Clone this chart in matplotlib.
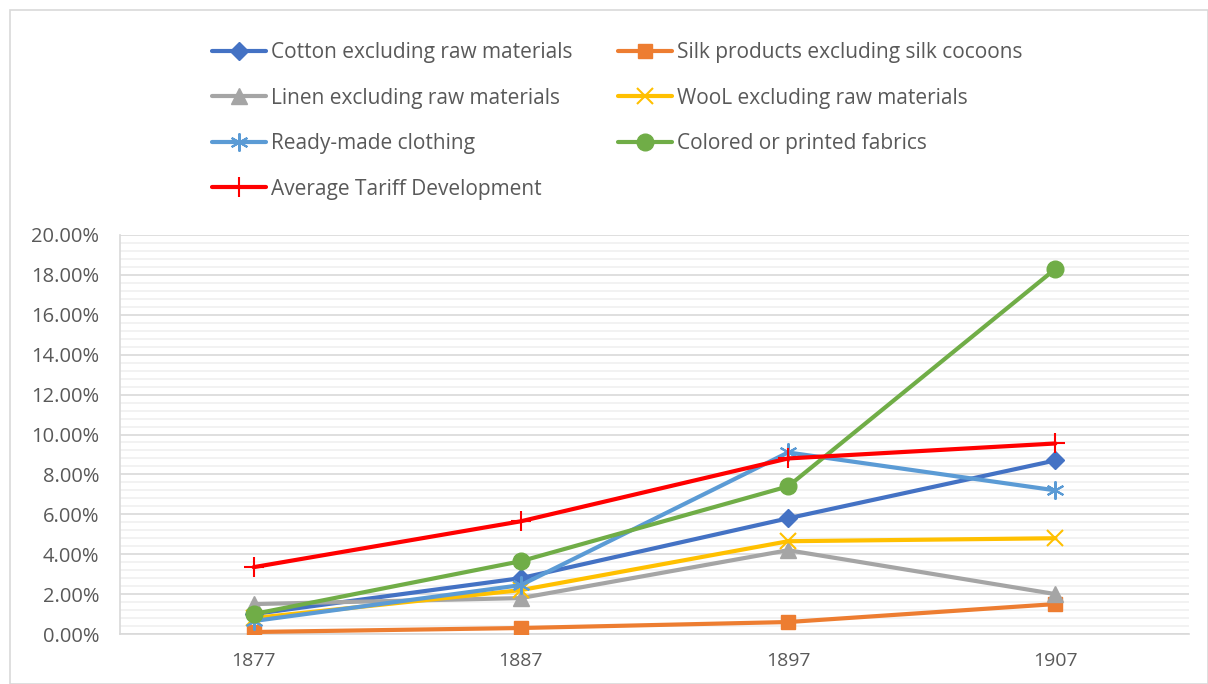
import matplotlib.pyplot as plt
from matplotlib.ticker import MultipleLocator, FuncFormatter
from matplotlib.patches import Rectangle

plt.rcParams['font.family'] = ['Open Sans', 'DejaVu Sans']

# Data
years = ['1877', '1887', '1897', '1907']
cotton = [1.0, 2.8, 5.8, 8.7]
silk = [0.1, 0.3, 0.6, 1.5]
linen = [1.5, 1.8, 4.2, 2.0]
wool = [0.8, 2.2, 4.65, 4.8]
ready_made = [0.65, 2.45, 9.1, 7.2]
colored = [1.0, 3.65, 7.4, 18.3]
average = [3.35, 5.65, 8.8, 9.55]

series = [
    ('Cotton excluding raw materials', cotton, '#4472C4', 'D', 9),
    ('Silk products excluding silk cocoons', silk, '#ED7D31', 's', 10),
    ('Linen excluding raw materials', linen, '#A5A5A5', '^', 11),
    ('WooL excluding raw materials', wool, '#FFC000', 'x', 11),
    ('Ready-made clothing', ready_made, '#5B9BD5', (6, 2, 0), 13),
    ('Colored or printed fabrics', colored, '#70AD47', 'o', 12),
    ('Average Tariff Development', average, '#FF0000', '+', 14),
]

fig = plt.figure(figsize=(12.08, 6.84), dpi=100)
ax = fig.add_axes([120 / 1208, 1 - 634 / 684, (1189 - 120) / 1208, (634 - 235) / 684])

x = range(len(years))
handles = []
for name, vals, color, marker, ms in series:
    h, = ax.plot(x, vals, color=color, lw=3, marker=marker, markersize=ms,
                 markeredgewidth=1.5 if marker in ('x', '+', (6, 2, 0)) else 1,
                 markerfacecolor=color, markeredgecolor=color, label=name,
                 solid_capstyle='round', zorder=3)
    handles.append(h)

ax.set_xlim(-0.5, len(years) - 0.5)
ax.set_ylim(0, 20)
ax.set_xticks(list(x))
ax.set_xticklabels(years)
ax.yaxis.set_major_locator(MultipleLocator(2))
ax.yaxis.set_minor_locator(MultipleLocator(0.4))
ax.yaxis.set_major_formatter(FuncFormatter(lambda v, p: f'{v:.2f}%'))
ax.grid(which='major', axis='y', color='#D9D9D9', lw=1.2, zorder=0)
ax.grid(which='minor', axis='y', color='#F0F0F0', lw=1.2, zorder=0)
ax.set_axisbelow(True)
ax.tick_params(axis='both', which='both', length=0, labelcolor='#595959')
ax.tick_params(axis='y', labelsize=14.5, pad=15)
ax.tick_params(axis='x', labelsize=14, pad=13)
for side in ['top', 'right']:
    ax.spines[side].set_visible(False)
for side in ['left', 'bottom']:
    ax.spines[side].set_color('#D9D9D9')
    ax.spines[side].set_linewidth(1.2)

# Legend: column-first order to match row layout
order = [0, 2, 4, 6, 1, 3, 5]
leg = fig.legend([handles[i] for i in order], [series[i][0] for i in order],
                 ncol=2, loc='upper left', bbox_to_anchor=(212 / 1208, 1 - 42 / 684),
                 frameon=False, fontsize=15, labelcolor='#595959',
                 handlelength=2.6, handletextpad=0.22, columnspacing=2.2,
                 labelspacing=1.18, borderaxespad=0, borderpad=0)

# Outer chart border
fig.patches.append(Rectangle((10 / 1208, 0), 1 - 10 / 1208, 1 - 10 / 684,
                             transform=fig.transFigure, fill=False,
                             edgecolor='#D9D9D9', lw=1.2))

fig.savefig('out.png', dpi=100)
